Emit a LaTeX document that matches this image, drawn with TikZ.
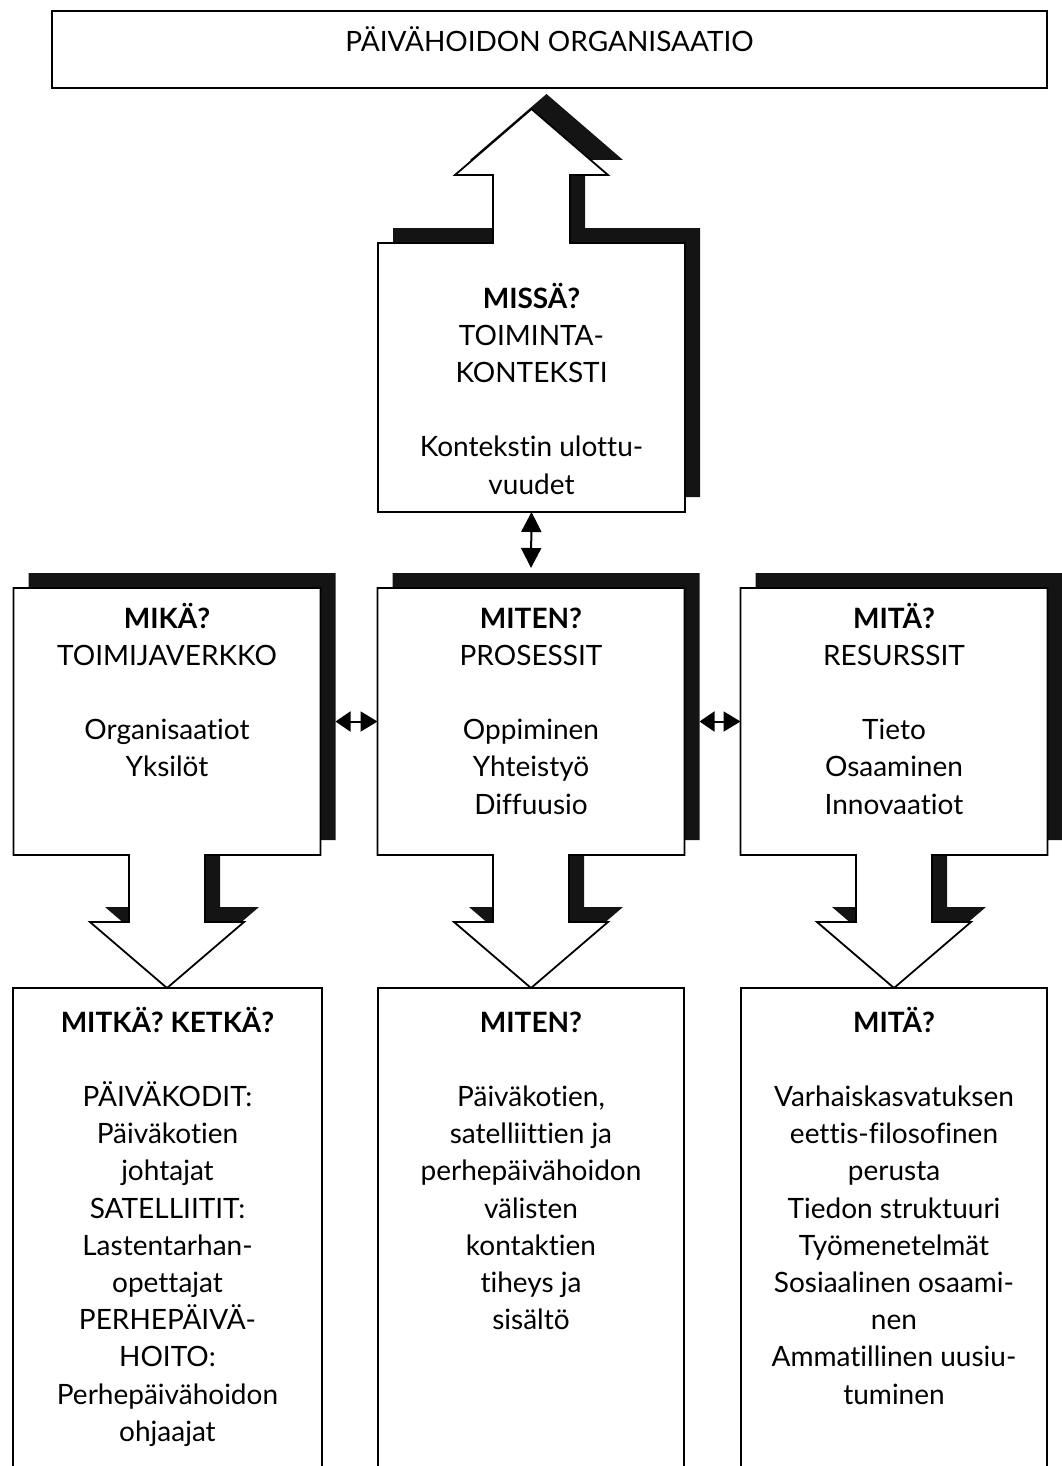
\documentclass[tikz,border=0pt]{standalone}
\usepackage{fontspec}
\setmainfont{Lato}[Ligatures={NoCommon}]
\usetikzlibrary{arrows.meta,calc}

\newcommand\tstrut{\rule{0pt}{28pt}}

\begin{document}
\begin{tikzpicture}[x=1pt,y=-1pt,
  area/.style={rectangle,inner sep=0pt,outer sep=0pt,draw=none},
  frame/.style={rectangle,inner sep=0pt,outer sep=0pt,draw=black,line width=1.8pt,fill=white},
  panel/.style={draw=black,line width=1.8pt,fill=white,line join=miter,
    preaction={fill=black!92,transform canvas={shift={(15pt,15pt)}}}},
  txt/.style={inner sep=0pt,outer sep=0pt,align=center,anchor=north,
    font=\fontsize{28}{37.2}\selectfont},
  link/.style={line width=2pt,
    {Triangle[length=20pt,width=20pt]}-{Triangle[length=20pt,width=20pt]}},
  shortlink/.style={line width=2pt,
    {Triangle[length=15pt,width=20pt]}-{Triangle[length=17pt,width=20pt]}}
]
\useasboundingbox (0,0) rectangle (1062,1466);
\clip (0,0) rectangle (1062,1466);

% organisation box
\node[frame,minimum width=995pt,minimum height=77pt] (title) at (549.5,49.5) {};
\node[txt] (titletext) at (549.5,24) {\tstrut PÄIVÄHOIDON ORGANISAATIO};

% box areas
\node[area,minimum width=307pt,minimum height=269pt] (missa) at (531.5,377.5) {};
\node[area,minimum width=307pt,minimum height=267pt] (mika)  at (167,721.5) {};
\node[area,minimum width=307pt,minimum height=267pt] (miten) at (531,721.5) {};
\node[area,minimum width=307pt,minimum height=267pt] (mita)  at (894,721.5) {};

% context box with its up arrow
\draw[panel] (missa.south west) -- (missa.north west)
  -- ($(missa.north)+(-38.5,0)$) -- ($(missa.north)+(-38.5,-68)$)
  -- ($(missa.north)+(-76.5,-68)$) -- ($(missa.north)+(0,-134)$)
  -- ($(missa.north)+(76.5,-68)$) -- ($(missa.north)+(38.5,-68)$)
  -- ($(missa.north)+(38.5,0)$) -- (missa.north east)
  -- (missa.south east) -- cycle;

% three boxes with down arrows
\foreach \n in {mika,miten,mita}{
  \draw[panel] (\n.north west) -- (\n.north east) -- (\n.south east)
    -- ($(\n.south)+(38,0)$) -- ($(\n.south)+(38,67)$)
    -- ($(\n.south)+(77,67)$) -- ($(\n.south)+(0,133)$)
    -- ($(\n.south)+(-77,67)$) -- ($(\n.south)+(-38,67)$)
    -- ($(\n.south)+(-38,0)$) -- (\n.south west) -- cycle;
}

% lower boxes
\node[frame,minimum width=309pt,minimum height=512pt] (lowleft)  at (167.5,1244) {};
\node[frame,minimum width=306pt,minimum height=512pt] (lowmid)   at (531,1244) {};
\node[frame,minimum width=306pt,minimum height=512pt] (lowright) at (894,1244) {};

% texts
\node[txt] (missatext) at (531.5,280) {\tstrut\textbf{MISSÄ?}\\TOIMINTA-\\KONTEKSTI\\[37.2pt]Kontekstin ulottu-\\vuudet};
\node[txt] (mikatext) at (167,600) {\tstrut\textbf{MIKÄ?}\\TOIMIJAVERKKO\\[37.2pt]Organisaatiot\\Yksilöt};
\node[txt] (mitentext) at (531,600) {\tstrut\textbf{MITEN?}\\PROSESSIT\\[37.2pt]Oppiminen\\Yhteistyö\\Diffuusio};
\node[txt] (mitatext) at (894,600) {\tstrut\textbf{MITÄ?}\\RESURSSIT\\[37.2pt]Tieto\\Osaaminen\\Innovaatiot};

\node[txt] (lowlefttext) at (167.5,1004) {\tstrut\textbf{MITKÄ? KETKÄ?}\\[37.2pt]PÄIVÄKODIT:\\Päiväkotien\\johtajat\\SATELLIITIT:\\Lastentarhan-\\opettajat\\PERHEPÄIVÄ-\\HOITO:\\Perhepäivähoidon\\ohjaajat};
\node[txt] (lowmidtext) at (531,1004) {\tstrut\textbf{MITEN?}\\[37.2pt]Päiväkotien,\\satelliittien ja\\perhepäivähoidon\\välisten\\kontaktien\\tiheys ja\\sisältö};
\node[txt] (lowrighttext) at (894,1004) {\tstrut\textbf{MITÄ?}\\[37.2pt]Varhaiskasvatuksen\\eettis-filosofinen\\perusta\\Tiedon struktuuri\\Työmenetelmät\\Sosiaalinen osaami-\\nen\\Ammatillinen uusiu-\\tuminen};

% two-way links
\draw[link] (missa.south) -- ($(miten.north)+(0,-20)$);
\draw[shortlink] ($(mika.east)+(15,0)$) -- (miten.west);
\draw[shortlink] ($(miten.east)+(15,0)$) -- (mita.west);
\end{tikzpicture}
\end{document}
